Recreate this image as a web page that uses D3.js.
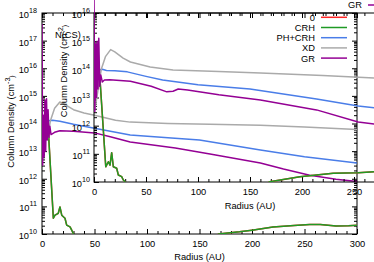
<!DOCTYPE html>
<html>
<head>
<meta charset="utf-8">
<script src="https://cdn.jsdelivr.net/npm/d3@7"></script>
<style>
  body { margin: 0; background: #fff; }
  svg text { font-family: "Liberation Sans", Arial, sans-serif; }
</style>
</head>
<body>
<div id="container"></div>
<script>
const WIDTH = 374;
const HEIGHT = 262;
const FONT = '"Liberation Sans", Arial, sans-serif';
const FS = 9.3;

// legend / series
const seriesNames = ["0", "CRH", "PH+CRH", "XD", "GR"];
const seriesColors = ["#ff2626", "#1f9a24", "#4a7de8", "#aaaaaa", "#940094"];

// axis ticks
const xTicks = [0, 50, 100, 150, 200, 250, 300];
const insetXTicks = [0, 50, 100, 150, 200, 250];
const mainYExps = [10, 11, 12, 13, 14, 15, 16, 17, 18];
const insetYExps = [10, 11, 12, 13, 14, 15, 16];

// main plot: [radius AU, log10 column density (cm^-3)]
const mainCRH = [[4.5, 14.1], [6, 13.76], [10.8, 10.57], [12.4, 10.68], [15.5, 10.75], [17.1, 10.98],
  [18.8, 10.68], [21.9, 10.57], [23.5, 10.32], [26.7, 10.26], [28.3, 10.14], [29.8, 10.02], [32, 9.8],
  [165, 9.8], [168, 10.0], [188, 10.08], [200, 10.14], [220, 10.25], [240, 10.31], [255, 10.34],
  [265, 10.34], [280, 10.29], [292, 10.3], [300, 10.32]];
const mainZero = mainCRH; // hidden under CRH
const mainPH = [[4, 13.9], [6, 14.1], [10, 14.12], [17, 14.08], [30, 13.97], [50, 13.83], [84, 13.58],
  [120, 13.48], [150, 13.4], [208, 13.04], [250, 12.8], [300, 12.57]];
const mainXD = [[5, 13.4], [8, 14.1], [12, 14.55], [17, 14.78], [22, 14.68], [30, 14.5], [40, 14.38],
  [50, 14.3], [70, 14.12], [84, 14.05], [120, 14.0], [160, 13.97], [208, 13.94], [250, 13.87], [300, 13.78]];
const mainGR = [[0, 17.6], [0.6, 12.5], [1.3, 14.3], [2, 12.8], [2.8, 14.85], [3.5, 13.0], [4.3, 14.9],
  [5, 13.4], [5.8, 14.5], [6.6, 13.5], [7.5, 13.9], [8.6, 13.6], [12, 13.68], [17, 13.74], [30, 13.72],
  [50, 13.66], [65, 13.52], [84, 13.33], [127, 13.11], [160, 12.9], [208, 12.57], [230, 12.35],
  [255, 12.13], [280, 11.98], [300, 11.9]];

// inset: [radius AU, log10 N(CS) (cm^-2)]
const insetCRH = [[5, 13.9], [5.8, 13.62], [11.3, 10.54], [13.8, 10.72], [15.4, 10.6], [17, 11.04],
  [18.6, 10.54], [21.8, 10.49], [23.4, 10.25], [26.6, 10.19], [28.2, 10.07], [29.8, 10.01], [32, 9.8],
  [160, 9.8], [169, 10.01], [198, 10.19], [230, 10.31], [254, 10.33], [270, 10.37], [300, 10.4]];
const insetZero = insetCRH; // hidden under CRH
const insetPH = [[3, 13.85], [5, 13.98], [8, 14.0], [12, 13.96], [20, 13.95], [32, 13.91], [50, 13.75],
  [66, 13.62], [100, 13.45], [150, 13.3], [214, 12.95], [254, 12.7], [270, 12.63], [300, 12.5]];
const insetXD = [[1, 12.6], [4, 13.3], [7, 14.0], [11, 14.45], [16, 14.7], [20, 14.62], [28, 14.4],
  [35, 14.26], [54, 14.08], [76, 13.98], [120, 13.92], [160, 13.87], [220, 13.78], [270, 13.69], [300, 13.64]];
const insetGR = [[0, 16.5], [0.8, 12.5], [1.5, 14.9], [2.3, 13.0], [3, 15.0], [3.8, 13.3], [4.6, 15.1],
  [5.5, 13.4], [6.5, 13.8], [8, 13.55], [10, 13.62], [15, 13.63], [35, 13.58], [55, 13.4], [70, 13.2],
  [76, 13.22], [81, 13.3], [90, 13.27], [120, 13.1], [160, 12.91], [214, 12.56], [254, 12.13],
  [270, 12.06], [300, 11.95]];

const mainSeries = [mainZero, mainCRH, mainPH, mainXD, mainGR];
const insetSeries = [insetZero, insetCRH, insetPH, insetXD, insetGR];

const svg = d3
  .select("div#container")
  .append("svg")
  .attr("width", WIDTH)
  .attr("height", HEIGHT);

const mainX = d3.scaleLinear().domain([0, 300]).range([42, 357]);
const mainY = d3.scaleLog().domain([1e10, 1e18]).range([234, 13]);
const insetX = d3.scaleLinear().domain([0, 300]).range([94, 406]);
const insetY = d3.scaleLog().domain([1e10, 1e16]).range([182, 13]);

function tickAxis(g, axis, transform, size) {
  const a = g
    .append("g")
    .attr("transform", transform)
    .call(axis.tickSize(-size).tickSizeOuter(0).tickPadding(6));
  a.select(".domain").remove();
  a.attr("font-family", FONT).attr("font-size", FS);
  a.selectAll("line").attr("stroke", "#000");
  return a;
}

function drawPlot(id, x, y, labelTicks, yExps, series, withRight) {
  const g = svg.append("g").attr("id", id);
  const [left, right] = x.range();
  const [bottom, top] = y.range();

  g.append("clipPath")
    .attr("id", id + "-clip")
    .append("rect")
    .attr("x", left)
    .attr("y", -30)
    .attr("width", right - left)
    .attr("height", bottom + 30);

  const xMinor = d3.range(0, 301, 10).filter((v) => v % 50 !== 0);
  const yMajor = yExps.map((e) => Math.pow(10, e));
  const yMinor = [];
  yExps.slice(0, -1).forEach((e) => {
    for (let k = 2; k < 10; k++) yMinor.push(k * Math.pow(10, e));
  });

  // bottom
  const bx = tickAxis(g, d3.axisBottom(x).tickValues(labelTicks), `translate(0,${bottom})`, 5);
  bx.selectAll("text").attr("fill", "#000");
  tickAxis(g, d3.axisBottom(x).tickValues(xMinor).tickFormat(""), `translate(0,${bottom})`, 3);
  // top
  tickAxis(g, d3.axisTop(x).tickValues(xTicks).tickFormat(""), `translate(0,${top})`, 5);
  tickAxis(g, d3.axisTop(x).tickValues(xMinor).tickFormat(""), `translate(0,${top})`, 3);
  // left
  const ly = tickAxis(g, d3.axisLeft(y).tickValues(yMajor).tickFormat(""), `translate(${left},0)`, 5);
  ly.selectAll(".tick text")
    .attr("dy", null)
    .attr("x", id === "main" ? -5 : -4)
    .attr("y", 4.5)
    .attr("fill", "#000")
    .each(function (d) {
      const t = d3.select(this);
      t.append("tspan").text("10");
      t.append("tspan")
        .attr("dy", -5)
        .attr("font-size", 7.2)
        .text(Math.round(Math.log10(d)));
    });
  tickAxis(g, d3.axisLeft(y).tickValues(yMinor).tickFormat(""), `translate(${left},0)`, 3);
  if (withRight) {
    tickAxis(g, d3.axisRight(y).tickValues(yMajor).tickFormat(""), `translate(${right},0)`, 5);
    tickAxis(g, d3.axisRight(y).tickValues(yMinor).tickFormat(""), `translate(${right},0)`, 3);
  }

  g.append("rect")
    .attr("x", left)
    .attr("y", top)
    .attr("width", right - left)
    .attr("height", bottom - top)
    .attr("fill", "none")
    .attr("stroke", "#000")
    .attr("stroke-width", 1);

  const line = d3
    .line()
    .x((d) => x(d[0]))
    .y((d) => y(Math.pow(10, d[1])));

  g.append("g")
    .attr("clip-path", `url(#${id}-clip)`)
    .selectAll("path")
    .data(series)
    .enter()
    .append("path")
    .attr("d", line)
    .attr("fill", "none")
    .attr("stroke", (_, i) => seriesColors[i])
    .attr("stroke-width", 1.5)
    .attr("stroke-linejoin", "round");

  return g;
}

function axisTitle(g, x, y, rotate, parts) {
  const t = g
    .append("text")
    .attr("transform", `translate(${x},${y})` + (rotate ? " rotate(-90)" : ""))
    .attr("text-anchor", "middle")
    .attr("font-size", FS)
    .attr("fill", "#000");
  parts.forEach((p) => {
    const s = t.append("tspan").text(p[0]);
    if (p[1]) s.attr("font-size", 7).attr("dy", p[1]);
  });
}

function legend(g, names, colors, rightX, firstY, step) {
  const row = g
    .selectAll("g.entry")
    .data(names)
    .enter()
    .append("g")
    .attr("class", "entry")
    .attr("transform", (_, i) => `translate(0,${firstY + i * step})`);
  row.append("text")
    .attr("x", rightX)
    .attr("y", 3.4)
    .attr("text-anchor", "end")
    .attr("font-size", FS)
    .attr("fill", "#000")
    .text((d) => d);
  row.append("line")
    .attr("x1", rightX + 6)
    .attr("x2", rightX + 32)
    .attr("stroke", (_, i) => colors[i])
    .attr("stroke-width", 1.5);
}

const main = drawPlot("main", mainX, mainY, xTicks, mainYExps, mainSeries, true);
axisTitle(main, 199.5, 260, false, [["Radius (AU)"]]);
axisTitle(main, 14, 121.5, true, [["Column Density (cm"], ["-3", -4], [")", 4]]);
// only the last entry of the main key is inside the picture
legend(main.append("g"), seriesNames.slice(-1), seriesColors.slice(-1), 362, 5, 10.3);

const inset = drawPlot("inset", insetX, insetY, insetXTicks, insetYExps, insetSeries, true);
axisTitle(inset, 250, 209, false, [["Radius (AU)"]]);
axisTitle(inset, 67, 71, true, [["Column Density (cm"], ["-2", -4], [")", 4]]);
inset.append("text")
  .attr("x", 55)
  .attr("y", 37.5)
  .attr("font-size", FS)
  .attr("fill", "#000")
  .text("N(CS)");
legend(inset.append("g"), seriesNames, seriesColors, 315, 17.3, 10.2);
</script>
</body>
</html>
